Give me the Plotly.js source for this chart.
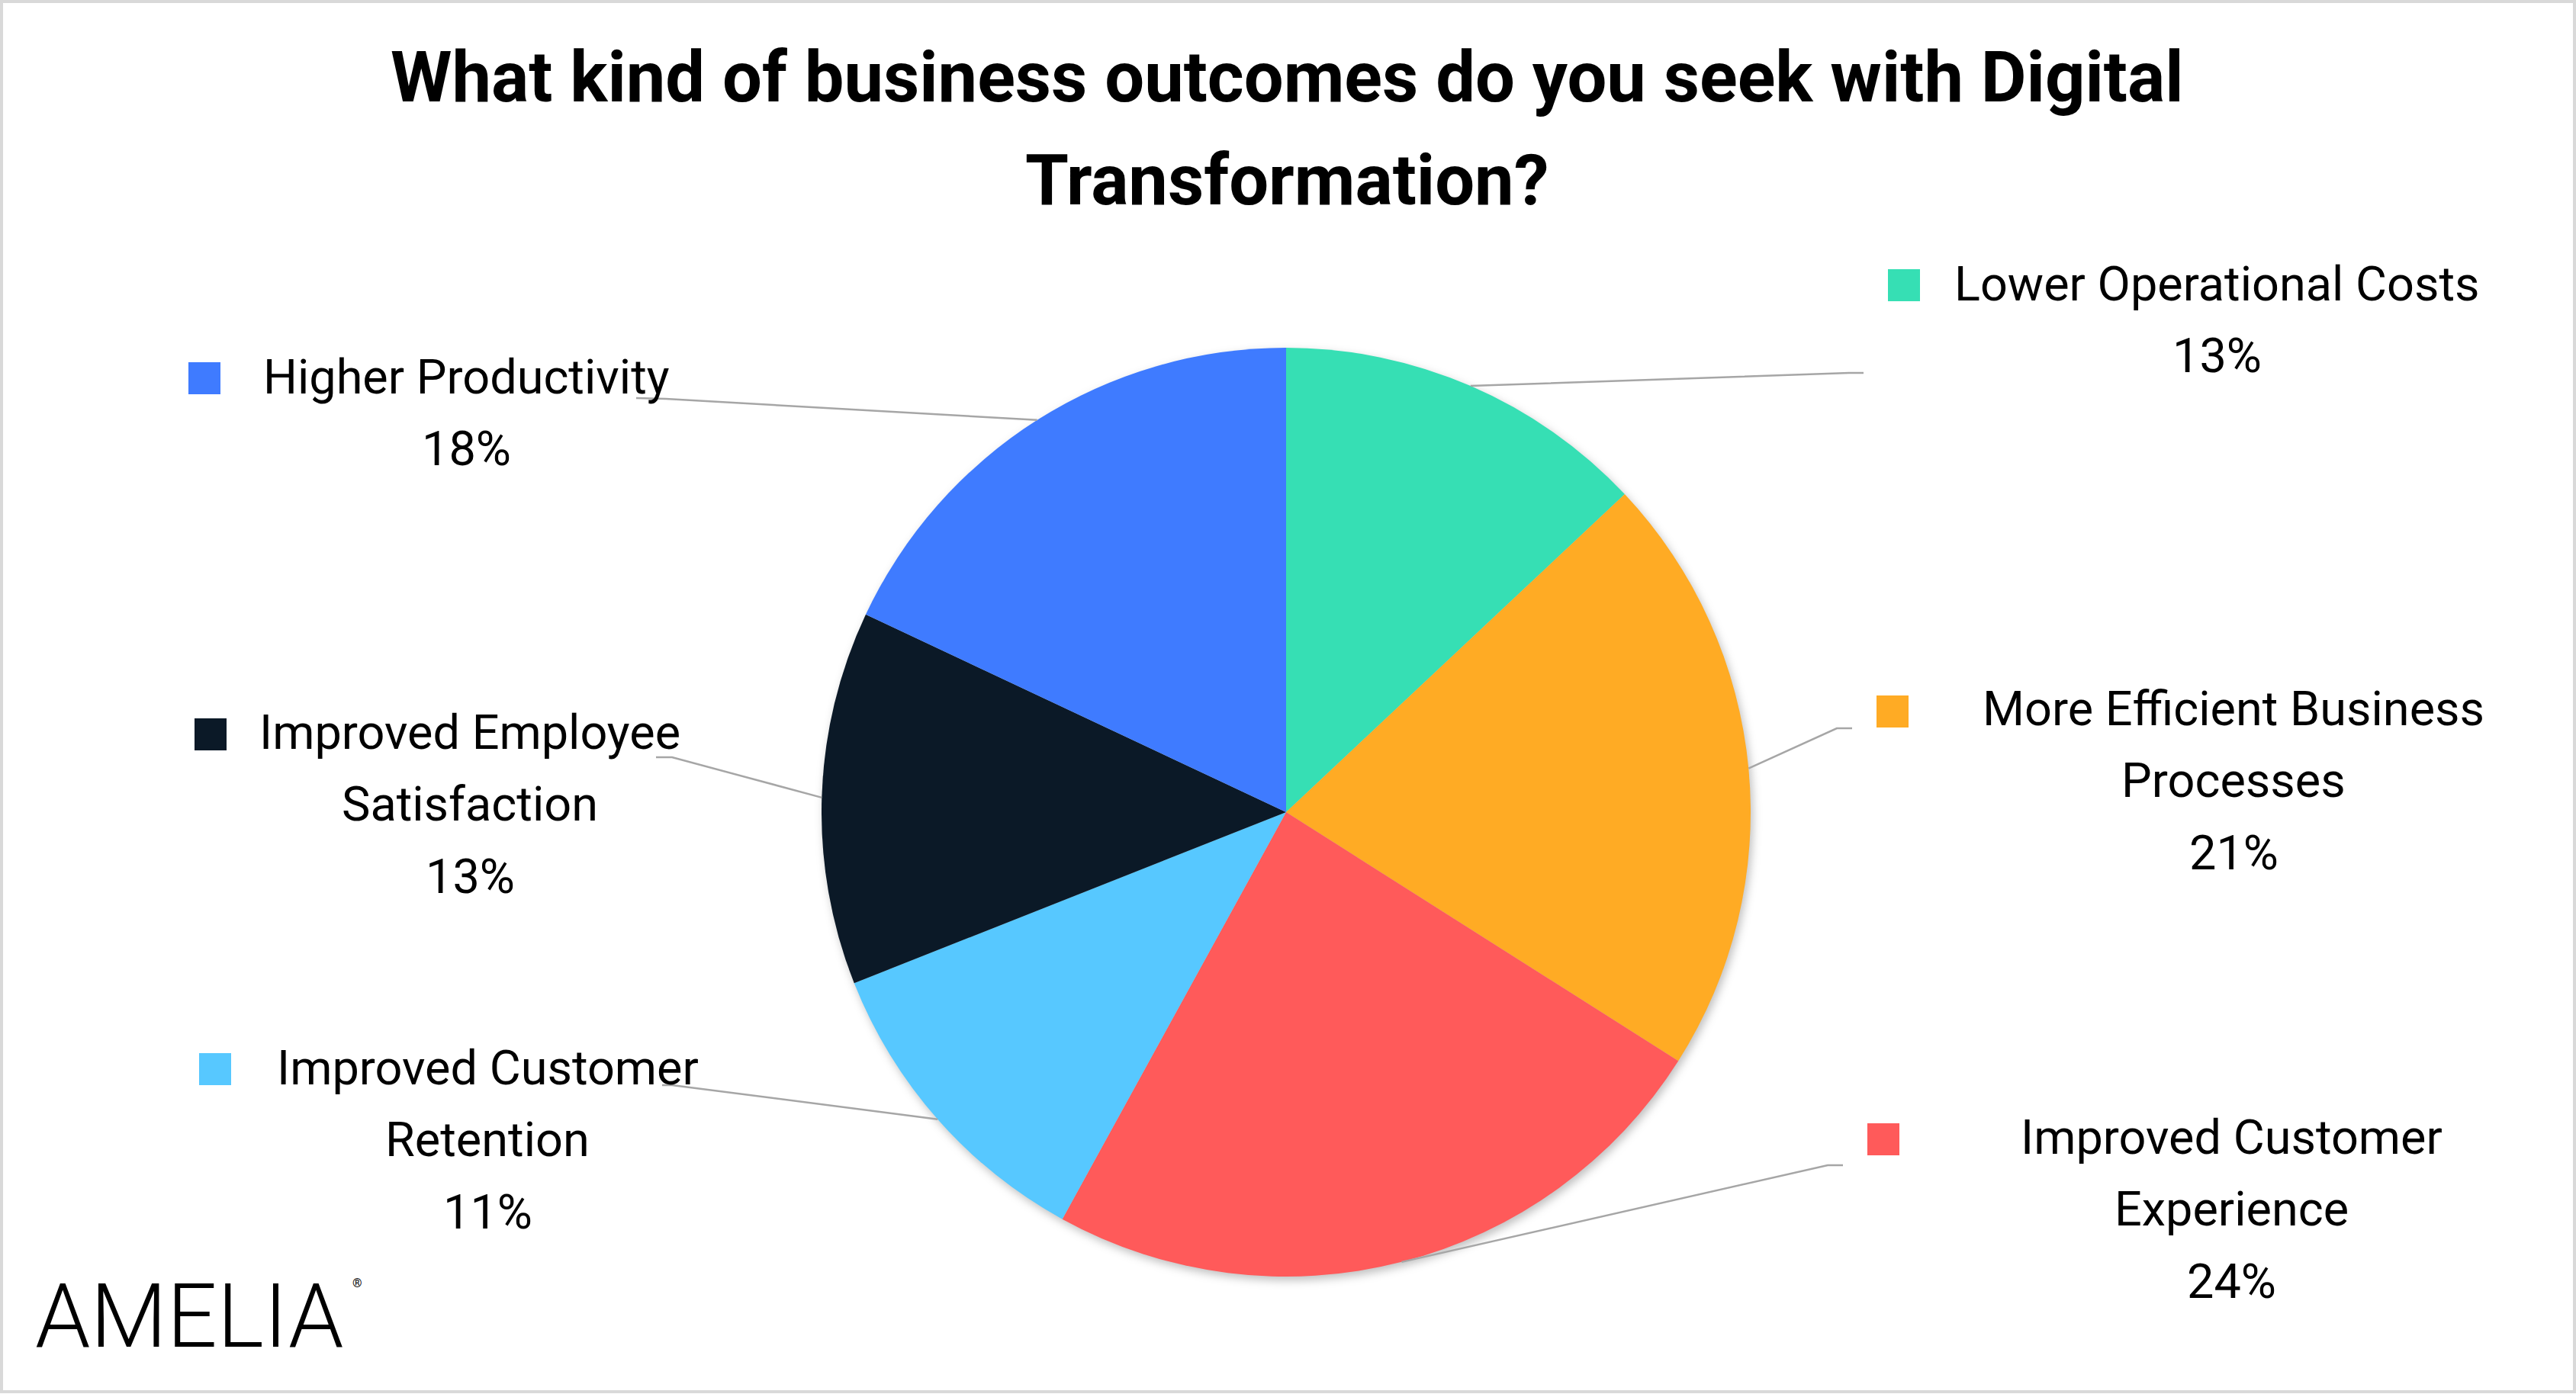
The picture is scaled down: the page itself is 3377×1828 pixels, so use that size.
<!DOCTYPE html>
<html>
<head>
<meta charset="utf-8">
<script src="https://cdn.plot.ly/plotly-3.0.1.min.js"></script>
<style>
html,body{margin:0;padding:0;background:#fff;}
#chart{width:3377px;height:1828px;}
.pielayer .trace{filter:drop-shadow(3px 5px 6px rgba(0,0,0,0.25));}
</style>
</head>
<body>
<div id="chart"></div>
<script>
// ---- data ----
const chartTitleLines = ['What kind of business outcomes do you seek with Digital', 'Transformation?'];
const categories = [
  'Lower Operational Costs',
  'More Efficient Business Processes',
  'Improved Customer Experience',
  'Improved Customer Retention',
  'Improved Employee Satisfaction',
  'Higher Productivity'
];
const values = [13, 21, 24, 11, 13, 18];
const sliceColors = ['#36DFB4', '#FFAB24', '#FF5A5A', '#57C8FF', '#0B1927', '#3F7BFF'];
const logoText = 'AMELIA';

// ---- layout (pixels) ----
const W = 3377, H = 1828;
const px = x => x / W;
const py = y => 1 - y / H;
const CX = 1686, CY = 1065, R = 609;

const labelLayout = [
  {cx: 2906, base: 394,  sq: [2475, 353],  elbow: [2424, 489],  end: [2443, 489]},
  {cx: 2928, base: 951,  sq: [2460, 912],  elbow: [2408, 955],  end: [2428, 955]},
  {cx: 2925, base: 1513, sq: [2448, 1473], elbow: [2396, 1528], end: [2416, 1528]},
  {cx: 639,  base: 1422, sq: [261, 1381],  elbow: [881, 1423],  end: [868, 1423]},
  {cx: 616,  base: 982,  sq: [255, 942],   elbow: [881, 993],   end: [860, 993]},
  {cx: 611,  base: 516,  sq: [247, 475],   elbow: [873, 523],   end: [834, 522]}
];
const LABEL_FS = 63, LINE_STEP = 94.5, SQ = 42;
const TITLE_FS = 92;

function wrap(text, maxChars) {
  const words = text.split(' ');
  const lines = [];
  let cur = '';
  words.forEach(w => {
    const t = cur ? cur + ' ' + w : w;
    if (t.length > maxChars && cur) { lines.push(cur); cur = w; } else { cur = t; }
  });
  if (cur) lines.push(cur);
  return lines;
}

const annotations = [];
const shapes = [];

// title
const titleBases = [133, 268];
chartTitleLines.forEach((t, i) => {
  annotations.push({
    text: '<b>' + t + '</b>', x: px(1687), y: py(titleBases[i] - 0.345 * TITLE_FS),
    xref: 'paper', yref: 'paper', xanchor: 'center', yanchor: 'middle', showarrow: false,
    font: {family: 'Roboto, sans-serif', size: TITLE_FS, color: '#000000'}
  });
});

// labels, keys and leader lines
const total = values.reduce((a, b) => a + b, 0);
let cum = 0;
values.forEach((v, i) => {
  const L = labelLayout[i];
  const lines = wrap(categories[i], 23).concat([Math.round(v / total * 100) + '%']);
  lines.forEach((ln, j) => {
    const base = L.base + j * LINE_STEP;
    annotations.push({
      text: ln, x: px(L.cx), y: py(base - 0.345 * LABEL_FS),
      xref: 'paper', yref: 'paper', xanchor: 'center', yanchor: 'middle', showarrow: false,
      font: {family: 'Roboto, sans-serif', size: LABEL_FS, color: '#000000'}
    });
  });
  shapes.push({
    type: 'rect', xref: 'paper', yref: 'paper',
    x0: px(L.sq[0]), x1: px(L.sq[0] + SQ), y0: py(L.sq[1] + SQ), y1: py(L.sq[1]),
    fillcolor: sliceColors[i], line: {width: 0}
  });
  const mid = (cum + v / 2) / total * 2 * Math.PI;
  cum += v;
  const sx = CX + R * Math.sin(mid), sy = CY - R * Math.cos(mid);
  shapes.push({
    type: 'path', xref: 'paper', yref: 'paper',
    path: `M ${px(sx)},${py(sy)} L ${px(L.elbow[0])},${py(L.elbow[1])} L ${px(L.end[0])},${py(L.end[1])}`,
    line: {color: '#A6A6A6', width: 2.5}
  });
});

// logo
annotations.push({
  text: logoText, x: px(248), y: py(1766 - 0.345 * 116),
  xref: 'paper', yref: 'paper', xanchor: 'center', yanchor: 'middle', showarrow: false,
  font: {family: 'Roboto, sans-serif', size: 116, color: '#000000', weight: 300}
});
annotations.push({
  text: '®', x: px(460), y: py(1682),
  xref: 'paper', yref: 'paper', xanchor: 'left', yanchor: 'middle', showarrow: false,
  font: {family: 'Roboto, sans-serif', size: 16, color: '#000000'}
});

// border
shapes.push({
  type: 'rect', xref: 'paper', yref: 'paper',
  x0: px(2), x1: px(3375), y0: py(1825), y1: py(2),
  line: {color: '#D9D9D9', width: 4}, fillcolor: 'rgba(0,0,0,0)'
});

const trace = {
  type: 'pie',
  labels: categories,
  values: values,
  sort: false,
  direction: 'clockwise',
  rotation: 0,
  textinfo: 'none',
  hoverinfo: 'label+percent',
  marker: {colors: sliceColors, line: {width: 0}},
  domain: {x: [px(CX - R), px(CX + R)], y: [py(CY + R), py(CY - R)]},
  showlegend: false
};

const layout = {
  width: W, height: H,
  margin: {l: 0, r: 0, t: 0, b: 0},
  paper_bgcolor: '#ffffff',
  plot_bgcolor: '#ffffff',
  showlegend: false,
  annotations: annotations,
  shapes: shapes
};

Plotly.newPlot('chart', [trace], layout, {displayModeBar: false, staticPlot: true});
</script>
</body>
</html>
